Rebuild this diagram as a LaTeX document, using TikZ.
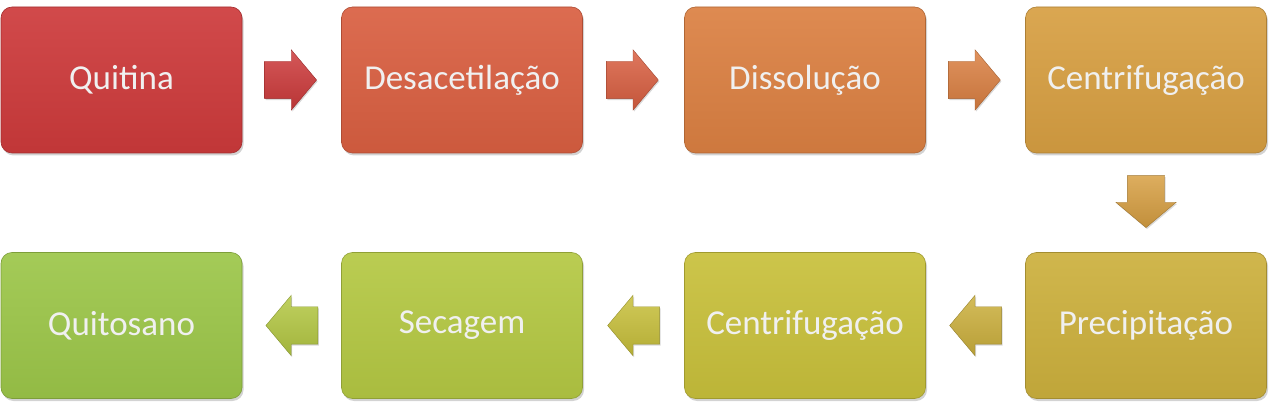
\documentclass[tikz,border=0pt]{standalone}
\usepackage{fontspec}
\setmainfont{Carlito}
\usetikzlibrary{shapes.arrows,shadows,calc}
\definecolor{c1}{HTML}{CD3A3B}
\definecolor{c2}{HTML}{D95F41}
\definecolor{c3}{HTML}{DB8042}
\definecolor{c4}{HTML}{D79F42}
\definecolor{c5}{HTML}{CCB03D}
\definecolor{c6}{HTML}{C8C03B}
\definecolor{c7}{HTML}{B4C843}
\definecolor{c8}{HTML}{9CC649}
\tikzset{
  stepbox/.style={rounded corners=11pt, minimum width=241pt, minimum height=146pt,
    inner sep=0pt, top color=#1!92!white, bottom color=#1!94!black,
    draw=#1!80!black, line width=0.6pt,
    drop shadow={opacity=0.35, shadow xshift=1.5pt, shadow yshift=-2.5pt},
    text=white!94!black, font=\fontsize{35}{40}\selectfont},
  flowarrow/.style={single arrow, minimum width=60pt, minimum height=52pt,
    single arrow head extend=11.5pt, single arrow tip angle=100,
    top color=#1!85!white, bottom color=#1!90!black, draw=#1!75!black, line width=0.4pt,
    drop shadow={opacity=0.3, shadow xshift=1pt, shadow yshift=-1.5pt}},
  rightarrow/.style={flowarrow=#1, inner xsep=0pt, inner ysep=18.5pt, xshift=-9pt},
  leftarrow/.style={flowarrow=#1, shape border rotate=180, inner xsep=0pt, inner ysep=18.5pt, xshift=8pt},
  downarrow/.style={flowarrow=#1, shape border rotate=270, inner xsep=18.5pt, inner ysep=0pt, yshift=9pt},
}
\begin{document}
\begin{tikzpicture}[x=1pt,y=1pt]
\useasboundingbox (0,0) rectangle (1269,407);
\node[stepbox=c1] (q)  at (121.5,327) {Quitina};
\node[stepbox=c2] (d)  at (462,327) {Desacetilação};
\node[stepbox=c3] (ds) at (805,327) {Dissolução};
\node[stepbox=c4] (c)  at (1146,327) {Centrifugação};
\node[stepbox=c5] (p)  at (1146,81.5) {Precipitação};
\node[stepbox=c6] (c2) at (805,81.5) {Centrifugação};
\node[stepbox=c7] (s)  at (462,81.5) {Secagem};
\node[stepbox=c8] (qs) at (121.5,81.5) {Quitosano};
\node[rightarrow=c1] (a1) at ($(q.east)!0.5!(d.west)$) {};
\node[rightarrow=c2] (a2) at ($(d.east)!0.5!(ds.west)$) {};
\node[rightarrow=c3] (a3) at ($(ds.east)!0.5!(c.west)$) {};
\node[downarrow=c4] (a4) at ($(c.south)!0.5!(p.north)$) {};
\node[leftarrow=c5] (a5) at ($(p.west)!0.5!(c2.east)$) {};
\node[leftarrow=c6] (a6) at ($(c2.west)!0.5!(s.east)$) {};
\node[leftarrow=c7] (a7) at ($(s.west)!0.5!(qs.east)$) {};
\end{tikzpicture}
\end{document}
